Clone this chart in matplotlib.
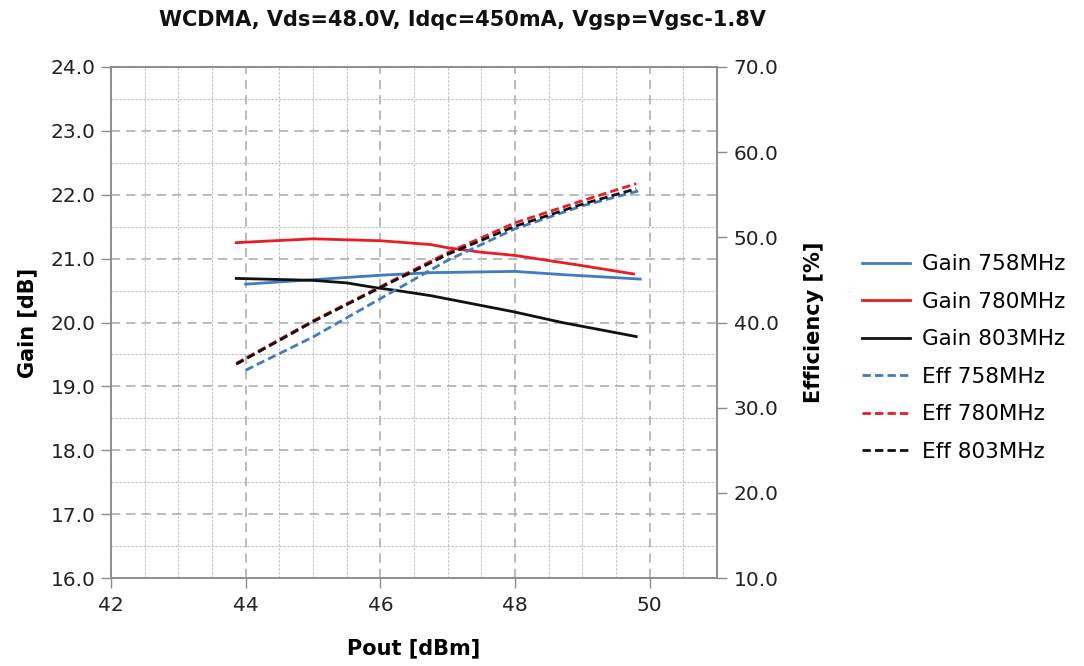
import numpy as np
import matplotlib
matplotlib.use("Agg")
import matplotlib.pyplot as plt
from matplotlib.ticker import MultipleLocator, FormatStrFormatter

plt.rcParams['font.family'] = ['DejaVu Sans']

# gain curves [dB] vs output power [dBm]
pout_gain_758 = [44.0, 45.0, 46.0, 46.75, 48.0, 48.7, 49.86]
gain_758 = [20.60, 20.67, 20.74, 20.78, 20.80, 20.75, 20.68]

pout_gain_780 = [43.86, 45.0, 46.0, 46.75, 47.0, 47.5, 48.0, 48.5, 49.0, 49.76]
gain_780 = [21.25, 21.31, 21.28, 21.22, 21.17, 21.10, 21.05, 20.97, 20.89, 20.76]

pout_gain_803 = [43.86, 45.0, 45.5, 45.9, 46.25, 46.75, 47.97, 48.7, 49.8]
gain_803 = [20.69, 20.66, 20.62, 20.55, 20.50, 20.42, 20.17, 20.00, 19.78]

# drain efficiency [%]
pout_eff_758 = [44.0, 45.0, 46.0, 47.0, 48.0, 49.0, 49.86]
eff_758 = [34.4, 38.3, 42.8, 47.3, 51.0, 53.7, 55.5]

pout_eff_780 = [43.86, 44.5, 45.0, 46.0, 47.0, 48.0, 49.0, 49.8]
eff_780 = [35.2, 38.0, 40.2, 44.2, 48.2, 51.7, 54.3, 56.3]

pout_eff_803 = [43.86, 44.5, 45.0, 46.0, 47.0, 48.0, 49.0, 49.8]
eff_803 = [35.1, 37.9, 40.1, 44.1, 48.0, 51.3, 53.9, 55.7]

title = "WCDMA, Vds=48.0V, Idqc=450mA, Vgsp=Vgsc-1.8V"

BLUE = "#3f7cc4"
RED = "#ec1c24"
BLACK = "#111111"
GRID = "#a8a8a8"
SPINE = "#8c8c8c"

fig = plt.figure(figsize=(10.84, 6.66), dpi=100)
ax = fig.add_axes([111/1084, 1 - 578/666, (717 - 111)/1084, (578 - 67)/666])
ax2 = ax.twinx()

ax.set_xlim(42, 51)
ax.set_ylim(16, 24)
ax2.set_ylim(10, 70)

ax.xaxis.set_major_locator(MultipleLocator(2))
ax.xaxis.set_minor_locator(MultipleLocator(0.5))
ax.yaxis.set_major_locator(MultipleLocator(1))
ax.yaxis.set_minor_locator(MultipleLocator(0.5))
ax.yaxis.set_major_formatter(FormatStrFormatter("%.1f"))
ax2.yaxis.set_major_locator(MultipleLocator(10))
ax2.yaxis.set_major_formatter(FormatStrFormatter("%.1f"))

ax.grid(which="major", color=GRID, linestyle=(0, (6, 4)), linewidth=1.1)
ax.grid(which="minor", color="#bdbdbd", linestyle=(0, (2, 1.6)), linewidth=0.8)
ax.set_axisbelow(True)

for a in (ax, ax2):
    for s in a.spines.values():
        s.set_color(SPINE)
        s.set_linewidth(1.1)

ax.tick_params(which="major", direction="out", length=7, width=1.0, color=SPINE,
               labelsize=14.5, labelcolor="#222222", pad=4)
ax.tick_params(axis="x", which="major", pad=6)
ax.tick_params(which="minor", length=0)
ax2.tick_params(which="major", direction="out", length=7, width=1.0, color=SPINE,
                labelsize=14.5, labelcolor="#222222", pad=5)

lw = 2.0
dash = (0, (3, 1.5))
l1, = ax.plot(pout_gain_758, gain_758, color=BLUE, lw=lw, label="Gain 758MHz")
l2, = ax.plot(pout_gain_780, gain_780, color=RED, lw=lw, label="Gain 780MHz")
l3, = ax.plot(pout_gain_803, gain_803, color=BLACK, lw=lw, label="Gain 803MHz")
l4, = ax2.plot(pout_eff_758, eff_758, color=BLUE, lw=lw, ls=dash, label="Eff 758MHz")
l5, = ax2.plot(pout_eff_780, eff_780, color=RED, lw=lw, ls=dash, label="Eff 780MHz")
l6, = ax2.plot(pout_eff_803, eff_803, color=BLACK, lw=lw, ls=dash, label="Eff 803MHz")

ax.set_xlabel("Pout [dBm]", fontsize=15, fontweight="bold")
ax.set_ylabel("Gain [dB]", fontsize=15, fontweight="bold")
ax2.set_ylabel("Efficiency [%]", fontsize=15, fontweight="bold")
ax.xaxis.set_label_coords(0.5, (578 - 638) / 511)
ax.yaxis.set_label_coords((37 - 111) / 606, 0.5)
ax2.yaxis.set_label_coords((804 - 111) / 606, 0.5)

fig.text(462/1084, 1 - 20/666, title, ha="center", va="center",
         fontsize=15, fontweight="bold", color="#111111")

fig.legend(handles=[l1, l2, l3, l4, l5, l6], loc="center left",
           bbox_to_anchor=(862/1084, 1 - 358/666), frameon=False,
           fontsize=15.5, handlelength=2.25, handletextpad=0.56,
           labelspacing=0.81, borderpad=0, borderaxespad=0)

fig.savefig("out.png", dpi=100)
